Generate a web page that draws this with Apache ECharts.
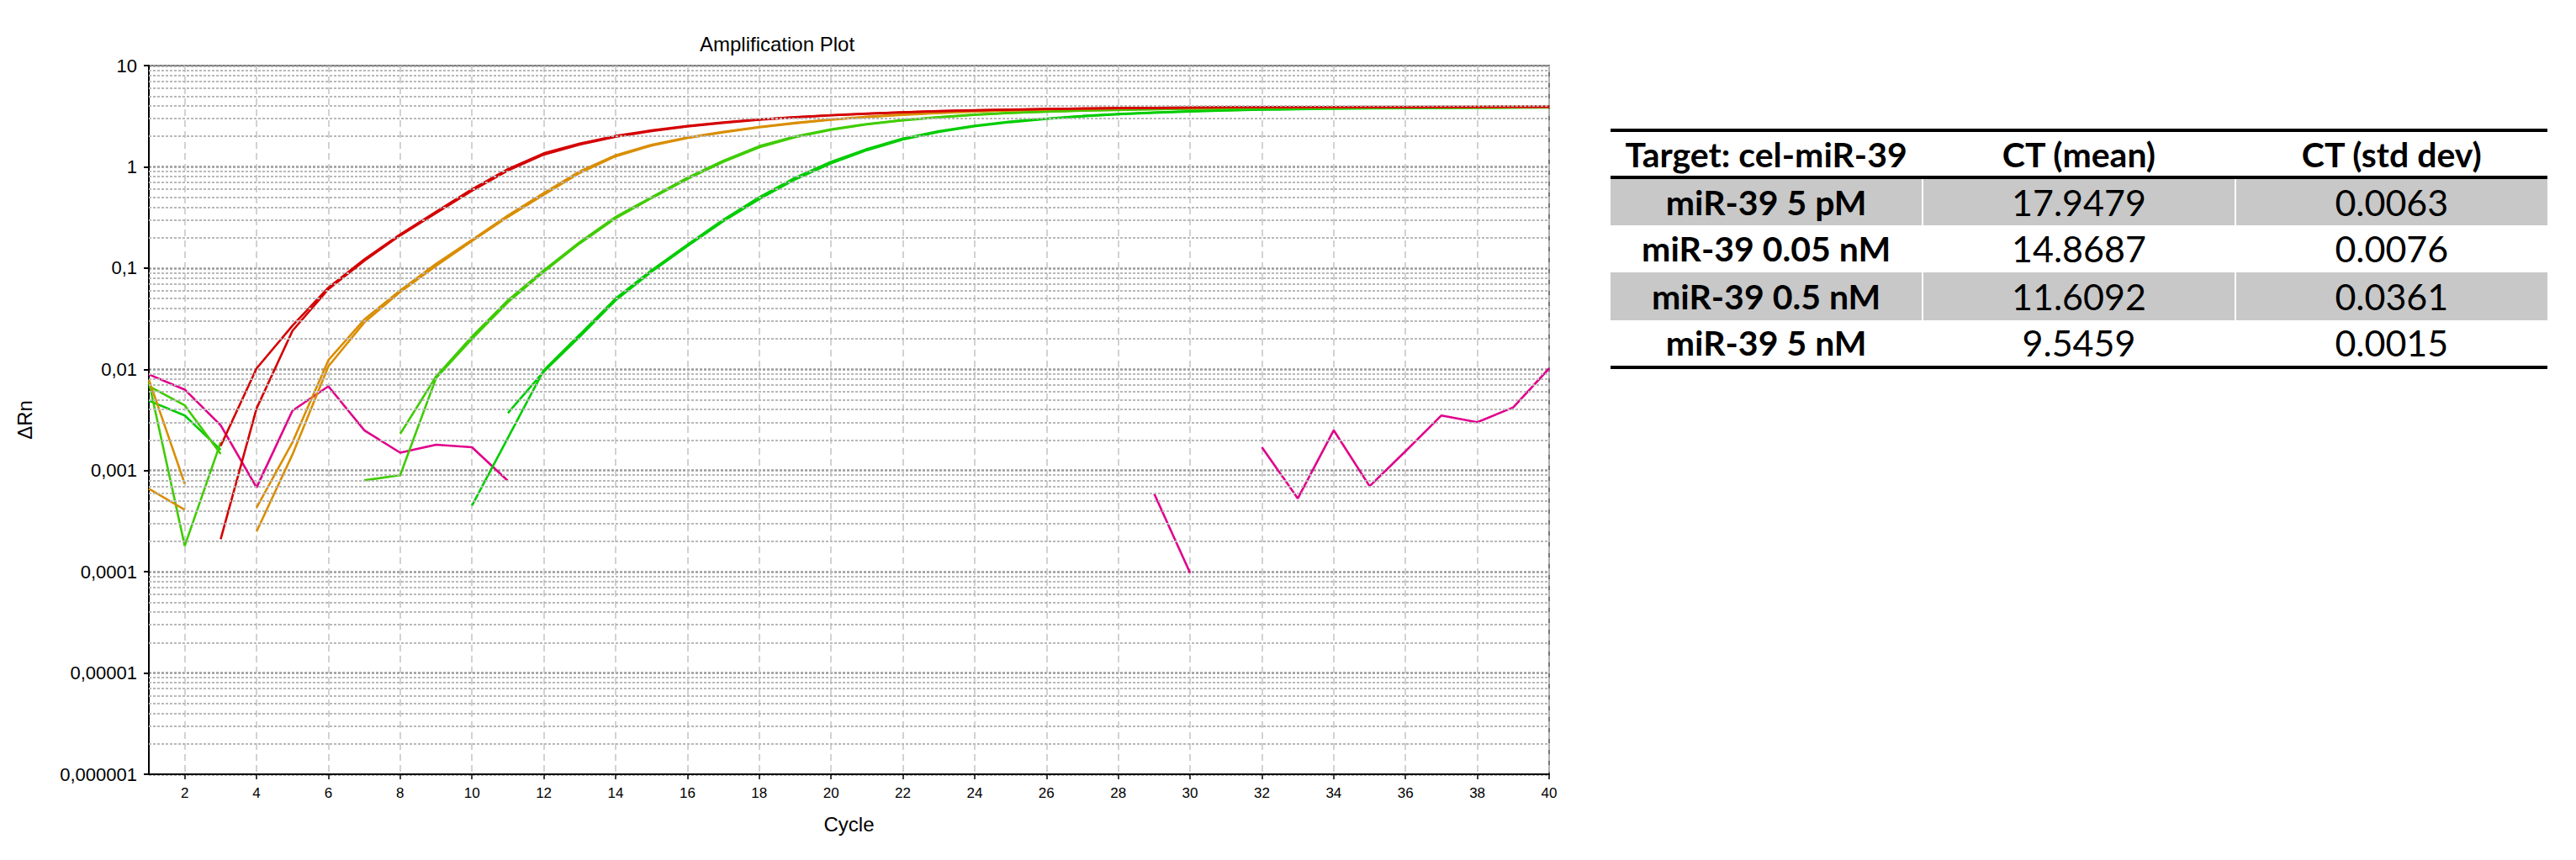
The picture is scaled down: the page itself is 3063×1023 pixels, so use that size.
<!DOCTYPE html>
<html>
<head>
<meta charset="utf-8">
<title>Amplification Plot</title>
<script src="https://cdn.jsdelivr.net/npm/echarts/dist/echarts.min.js"></script>
<style>
  html, body { margin: 0; padding: 0; background: #fff; width: 3063px; height: 1023px; overflow: hidden; }
  #chart { position: absolute; left: 0; top: 0; width: 3063px; height: 1023px; }
  #ctTable { position: absolute; left: 1915px; top: 153px; width: 1114px; border-collapse: collapse;
             font-family: Lato, "Open Sans", sans-serif; color: #000; table-layout: fixed; }
  #ctTable th, #ctTable td { text-align: center; padding: 0; border-left: 2px solid #fff; white-space: nowrap; }
  #ctTable th:first-child, #ctTable td:first-child { border-left: none; }
  #ctTable thead tr { border-top: 4px solid #000; border-bottom: 4px solid #000; height: 56px; }
  #ctTable th { font-weight: bold; font-size: 41px; }
  #ctTable tbody tr { height: 56.5px; }
  #ctTable tbody tr.shade { background: #c8c8c8; }
  #ctTable tbody tr:last-child { border-bottom: 4px solid #000; }
  #ctTable td.lbl { font-weight: bold; font-size: 41px; }
  #ctTable td.num { font-weight: normal; font-size: 43px; }
</style>
</head>
<body>
<div id="chart"></div>
<table id="ctTable"><thead><tr id="hdr"></tr></thead><tbody id="tb"></tbody></table>
<script>
// ---------- data ----------
const cycles = [1,2,3,4,5,6,7,8,9,10,11,12,13,14,15,16,17,18,19,20,
                21,22,23,24,25,26,27,28,29,30,31,32,33,34,35,36,37,38,39,40];

const yTickExponents = [-6, -5, -4, -3, -2, -1, 0, 1];
const yTickLabels = ['0,000001', '0,00001', '0,0001', '0,001', '0,01', '0,1', '1', '10'];
const minorGridFactors = [2, 3, 4, 5, 6, 7, 8, 9];

// miR-39 5 nM (red), two replicates
const red5nM_A = [null, null, 0.00021, 0.0041, 0.024, 0.062, 0.118, 0.21, 0.35, 0.58,
  0.92, 1.32, 1.66, 1.98, 2.25, 2.5, 2.72, 2.92, 3.08, 3.22,
  3.34, 3.45, 3.54, 3.61, 3.67, 3.72, 3.76, 3.79, 3.82, 3.84,
  3.86, 3.87, 3.88, 3.89, 3.9, 3.9, 3.91, 3.91, 3.92, 3.92];
const red5nM_B = [null, null, 0.00175, 0.0102, 0.027, 0.064, 0.122, 0.215, 0.36, 0.6,
  0.95, 1.36, 1.7, 2.02, 2.29, 2.53, 2.75, 2.94, 3.1, 3.24,
  3.36, 3.46, 3.55, 3.62, 3.68, 3.73, 3.77, 3.8, 3.83, 3.85,
  3.87, 3.88, 3.89, 3.9, 3.91, 3.91, 3.92, 3.92, 3.93, 3.93];

// miR-39 0.5 nM (orange)
const orange05nM_A = [0.0079, 0.00074, null, 0.00043, 0.0019, 0.0123, 0.031, 0.06, 0.11, 0.19,
  0.33, 0.55, 0.9, 1.3, 1.65, 1.95, 2.22, 2.48, 2.72, 2.94,
  3.12, 3.28, 3.42, 3.53, 3.62, 3.7, 3.75, 3.79, 3.82, 3.84,
  3.86, 3.87, 3.88, 3.89, 3.89, 3.9, 3.9, 3.91, 3.91, 3.92];
const orange05nM_B = [0.00066, 0.00041, null, 0.00025, 0.00144, 0.0107, 0.029, 0.058, 0.105, 0.185,
  0.32, 0.53, 0.87, 1.27, 1.62, 1.92, 2.19, 2.45, 2.69, 2.91,
  3.1, 3.26, 3.4, 3.51, 3.6, 3.68, 3.74, 3.78, 3.81, 3.83,
  3.85, 3.86, 3.87, 3.88, 3.88, 3.89, 3.89, 3.9, 3.9, 3.91];

// miR-39 0.05 nM (yellow-green)
const green005nM_A = [0.0075, 0.00018, 0.0019, null, null, null, null, 0.0023, 0.0085, 0.021,
  0.048, 0.095, 0.18, 0.32, 0.5, 0.78, 1.15, 1.6, 2.0, 2.35,
  2.65, 2.9, 3.1, 3.28, 3.42, 3.52, 3.6, 3.66, 3.71, 3.75,
  3.78, 3.8, 3.82, 3.83, 3.84, 3.85, 3.86, 3.86, 3.87, 3.87];
const green005nM_B = [0.0068, 0.0044, 0.00146, null, null, null, 0.0008, 0.0009, 0.0082, 0.02,
  0.046, 0.092, 0.175, 0.31, 0.49, 0.76, 1.12, 1.56, 1.96, 2.32,
  2.62, 2.88, 3.08, 3.26, 3.4, 3.5, 3.58, 3.64, 3.7, 3.74,
  3.77, 3.79, 3.81, 3.82, 3.83, 3.84, 3.85, 3.85, 3.86, 3.86];

// miR-39 5 pM (green)
const green5pM_A = [0.0049, 0.0035, 0.0016, null, null, null, null, null, null, 0.00045,
  0.0021, 0.0098, 0.022, 0.05, 0.095, 0.17, 0.3, 0.5, 0.78, 1.12,
  1.5, 1.9, 2.25, 2.55, 2.8, 3.0, 3.18, 3.32, 3.44, 3.54,
  3.62, 3.68, 3.72, 3.76, 3.79, 3.81, 3.83, 3.84, 3.85, 3.86];
const green5pM_B = [null, null, null, null, null, null, null, null, null, null,
  0.0037, 0.0095, 0.021, 0.048, 0.092, 0.165, 0.29, 0.48, 0.75, 1.08,
  1.46, 1.86, 2.21, 2.51, 2.76, 2.97, 3.15, 3.3, 3.42, 3.52,
  3.6, 3.66, 3.71, 3.75, 3.78, 3.8, 3.82, 3.83, 3.84, 3.85];

// no-template control (magenta)
const ntc = [0.0089, 0.0063, 0.0028, 0.00068, 0.0039, 0.0068, 0.0025, 0.0015, 0.0018, 0.0017,
  0.00079, null, null, null, null, null, null, null, null, null,
  null, null, null, null, null, null, null, null, 0.00059, 0.0000975,
  null, 0.0017, 0.00053, 0.0025, 0.0007, 0.00155, 0.0035, 0.003, 0.0042, 0.0102];

// table
const tableHeader = ['Target: cel-miR-39', 'CT (mean)', 'CT (std dev)'];
const tableTargets = ['miR-39 5 pM', 'miR-39 0.05 nM', 'miR-39 0.5 nM', 'miR-39 5 nM'];
const ctMean = ['17.9479', '14.8687', '11.6092', '9.5459'];
const ctStdDev = ['0.0063', '0.0076', '0.0361', '0.0015'];

// ---------- table ----------
const hdr = document.getElementById('hdr');
tableHeader.forEach(t => { const th = document.createElement('th'); th.textContent = t; hdr.appendChild(th); });
const tb = document.getElementById('tb');
tableTargets.forEach((t, i) => {
  const tr = document.createElement('tr');
  if (i % 2 === 0) tr.className = 'shade';
  [[t, 'lbl'], [ctMean[i], 'num'], [ctStdDev[i], 'num']].forEach(([v, c]) => {
    const td = document.createElement('td'); td.textContent = v; td.className = c; tr.appendChild(td);
  });
  tb.appendChild(tr);
});

// ---------- chart ----------
const chart = echarts.init(document.getElementById('chart'), null, { renderer: 'svg', width: 3063, height: 1023 });
const fmtY = v => {
  const e = Math.round(Math.log10(v));
  const i = yTickExponents.indexOf(e);
  return i >= 0 ? yTickLabels[i] : '';
};
const evenCycle = (idx, val) => Number(val) % 2 === 0;

const minorLines = [];
yTickExponents.slice(0, -1).forEach(e => {
  minorGridFactors.forEach(f => minorLines.push({ yAxis: Number((f * Math.pow(10, e)).toPrecision(6)) }));
});

function curve(name, data, color) {
  return {
    name, type: 'line', data, symbol: 'none', showSymbol: false, connectNulls: false,
    smooth: false, silent: true, animation: false, z: 3,
    lineStyle: { color, width: 2.6 }, itemStyle: { color }
  };
}
const FONT = 'Liberation Sans, Arial, sans-serif';

chart.setOption({
  animation: false,
  backgroundColor: '#fff',
  grid: { left: 177, top: 78, width: 1665, height: 843, show: true, borderColor: '#777', borderWidth: 2, backgroundColor: 'transparent' },
  graphic: [{
    type: 'text', left: 832, top: 40, z: 10,
    style: { text: 'Amplification Plot', font: '24px ' + FONT, fill: '#000' }
  }],
  xAxis: {
    type: 'category', data: cycles, boundaryGap: false,
    name: 'Cycle', nameLocation: 'middle', nameGap: 47,
    nameTextStyle: { fontFamily: FONT, fontSize: 24, color: '#000' },
    axisLine: { show: true, onZero: false, lineStyle: { color: '#000', width: 2 } },
    axisTick: { show: true, interval: evenCycle, length: 6, lineStyle: { color: '#000', width: 1.5 } },
    axisLabel: { interval: evenCycle, margin: 14, fontFamily: FONT, fontSize: 17, color: '#000' },
    splitLine: { show: true, interval: evenCycle, lineStyle: { color: '#c4c4c4', width: 1.5, type: [8, 5] } }
  },
  yAxis: {
    type: 'log', logBase: 10, min: 1e-6, max: 10, splitNumber: 7,
    name: 'ΔRn', nameLocation: 'middle', nameGap: 136, nameRotate: 90,
    nameTextStyle: { fontFamily: FONT, fontSize: 24, color: '#000' },
    axisLine: { show: true, lineStyle: { color: '#000', width: 2 } },
    axisTick: { show: true, length: 6, lineStyle: { color: '#000', width: 2 } },
    axisLabel: { formatter: fmtY, margin: 14, fontFamily: FONT, fontSize: 22, color: '#000' },
    splitLine: { show: true, lineStyle: { color: '#9a9a9a', width: 2.5, type: [3, 2] } }
  },
  series: [
    {
      name: 'grid-minor', type: 'line', data: [], silent: true, z: 1,
      markLine: { silent: true, symbol: 'none', precision: 12, label: { show: false }, animation: false,
        lineStyle: { color: '#b8b8b8', width: 2, type: [3, 2] }, data: minorLines }
    },
    curve('NTC', ntc, '#e0008a'),
    curve('miR-39 5 pM A', green5pM_A, '#00cc00'),
    curve('miR-39 5 pM B', green5pM_B, '#00cc00'),
    curve('miR-39 0.05 nM A', green005nM_A, '#3fcc00'),
    curve('miR-39 0.05 nM B', green005nM_B, '#3fcc00'),
    curve('miR-39 0.5 nM A', orange05nM_A, '#d98e04'),
    curve('miR-39 0.5 nM B', orange05nM_B, '#d98e04'),
    curve('miR-39 5 nM A', red5nM_A, '#d40000'),
    curve('miR-39 5 nM B', red5nM_B, '#d40000')
  ]
});
</script>
</body>
</html>
